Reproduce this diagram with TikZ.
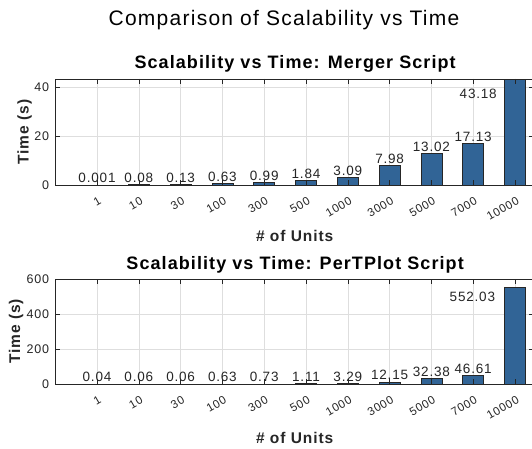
\documentclass[tikz,border=0pt]{standalone}
\usepackage{fontspec}
\setmainfont[LetterSpace=6]{Liberation Sans}
\definecolor{barblue}{RGB}{49,100,150}
\definecolor{axisgray}{RGB}{38,38,38}
\definecolor{gridgray}{RGB}{222,222,222}

\begin{document}
\begin{tikzpicture}[x=1pt, y=-1pt,
    bar/.style={draw=black!85, fill=barblue, line width=0.7pt},
    gridline/.style={gridgray, line width=0.6pt},
    frame/.style={axisgray, line width=0.8pt},
    tickmark/.style={axisgray, line width=0.6pt},
    val/.style={anchor=base, inner sep=0pt, text=axisgray, font=\fontsize{13.5}{15}\selectfont},
    ytl/.style={anchor=east, inner sep=0pt, text=axisgray, font=\fontsize{12.5}{14}\selectfont},
    xtl/.style={anchor=east, inner sep=0pt, rotate=30, text=axisgray, font=\fontsize{11.5}{12}\selectfont},
    plottitle/.style={anchor=base, inner sep=0pt, font=\fontsize{18}{20}\selectfont\bfseries},
    axlabel/.style={inner sep=0pt, text=axisgray, font=\fontsize{15.5}{17}\selectfont\bfseries}]
\useasboundingbox (0,0) rectangle (532,449);
\fill[white] (0,0) rectangle (532,449);

\node[anchor=base, inner sep=0pt, font=\fontsize{21}{23}\selectfont] (main) at (284,26) {Comparison of Scalability vs Time};

% merger script
\begin{scope}[xshift=55.2pt, yshift=-185pt, x=41.8pt, y=2.45pt]
  \foreach \y in {20,40} \draw[gridline] (0,\y) -- (11.45,\y);
  \foreach \k in {1,...,11} \draw[gridline] (\k,0) -- (\k,43.27);
  \foreach \v [count=\k] in {0.001,0.08,0.13,0.63,0.99,1.84,3.09,7.98,13.02,17.13,43.18}
    \draw[bar] (\k-0.25,0) rectangle (\k+0.25,\v);
  \foreach \v [count=\k] in {0.001,0.08,0.13,0.63,0.99,1.84,3.09,7.98,13.02,17.13}
    \node[val] (m\k) at ([yshift=2pt]\k,\v) {\v};
  \node[val] (m11) at (10.12,35.5) {43.18};
  \draw[frame] (0,0) rectangle (11.45,43.27);
  \foreach \k in {1,...,11} {
    \draw[tickmark] (\k,0) -- ++(0,5pt);
    \draw[tickmark] (\k,43.27) -- ++(0,-5pt);
  }
  \foreach \y in {0,20,40} {
    \draw[tickmark] (0,\y) -- ++(5pt,0);
    \draw[tickmark] (11.45,\y) -- ++(-5pt,0);
    \node[ytl] (my\y) at ([xshift=-6pt]0,\y) {\y};
  }
  \foreach \u [count=\k] in {1,10,30,100,300,500,1000,3000,5000,7000,10000}
    \node[xtl] (mx\k) at ([xshift=3pt, yshift=-15pt]\k,0) {\u};
  \node[plottitle] (mtitle) at (5.74,47.4) {Scalability vs Time: Merger Script};
  \node[axlabel, anchor=base] (mxlabel) at (5.73,-22.9) {\# of Units};
  \node[axlabel, rotate=90] (mylabel) at ([xshift=-30.5pt]0,21.6) {Time (s)};
\end{scope}

% pertplot script
\begin{scope}[xshift=55.2pt, yshift=-384pt, x=41.8pt, y=0.175pt]
  \foreach \y in {200,400} \draw[gridline] (0,\y) -- (11.45,\y);
  \foreach \k in {1,...,11} \draw[gridline] (\k,0) -- (\k,600);
  \foreach \v [count=\k] in {0.04,0.06,0.06,0.63,0.73,1.11,3.29,12.15,32.38,46.61,552.03}
    \draw[bar] (\k-0.25,0) rectangle (\k+0.25,\v);
  \foreach \v [count=\k] in {0.04,0.06,0.06,0.63,0.73,1.11,3.29,12.15,32.38,46.61}
    \node[val] (p\k) at ([yshift=2pt]\k,\v) {\v};
  \node[val] (p11) at (9.98,468.6) {552.03};
  \draw[frame] (0,0) rectangle (11.45,600);
  \foreach \k in {1,...,11} {
    \draw[tickmark] (\k,0) -- ++(0,5pt);
    \draw[tickmark] (\k,600) -- ++(0,-5pt);
  }
  \foreach \y in {0,200,400,600} {
    \draw[tickmark] (0,\y) -- ++(5pt,0);
    \draw[tickmark] (11.45,\y) -- ++(-5pt,0);
    \node[ytl] (py\y) at ([xshift=-6pt]0,\y) {\y};
  }
  \foreach \u [count=\k] in {1,10,30,100,300,500,1000,3000,5000,7000,10000}
    \node[xtl] (px\k) at ([xshift=3pt, yshift=-15pt]\k,0) {\u};
  \node[plottitle] (ptitle) at (5.74,657) {Scalability vs Time: PerTPlot Script};
  \node[axlabel, anchor=base] (pxlabel) at ([yshift=-59pt]5.73,0) {\# of Units};
  \node[axlabel, rotate=90] (pylabel) at ([xshift=-39pt]0,300) {Time (s)};
\end{scope}
\end{tikzpicture}
\end{document}
